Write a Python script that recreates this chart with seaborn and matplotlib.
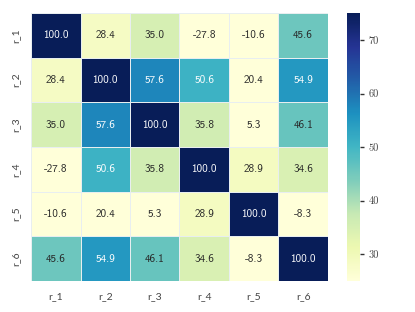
import numpy as np
import pandas as pd
import matplotlib
matplotlib.use("Agg")
import matplotlib.pyplot as plt
import seaborn as sns

labels = ["r_1", "r_2", "r_3", "r_4", "r_5", "r_6"]
row_1 = [100.0, 28.4, 35.0, -27.8, -10.6, 45.6]
row_2 = [28.4, 100.0, 57.6, 50.6, 20.4, 54.9]
row_3 = [35.0, 57.6, 100.0, 35.8, 5.3, 46.1]
row_4 = [-27.8, 50.6, 35.8, 100.0, 28.9, 34.6]
row_5 = [-10.6, 20.4, 5.3, 28.9, 100.0, -8.3]
row_6 = [45.6, 54.9, 46.1, 34.6, -8.3, 100.0]

df = pd.DataFrame([row_1, row_2, row_3, row_4, row_5, row_6], index=labels, columns=labels)

sns.set_theme(style="white")
plt.rcParams['font.family'] = ['cmss10', 'DejaVu Sans']
plt.rcParams['axes.unicode_minus'] = False

fig = plt.figure(figsize=(4.15, 3.12), dpi=100)
ax = fig.add_axes([0.075, 0.099, 0.715, 0.859])
cax = fig.add_axes([0.836, 0.099, 0.031, 0.859])

sns.heatmap(df, ax=ax, cbar_ax=cax, cmap="YlGnBu", vmin=25, vmax=75,
            annot=True, fmt=".1f", linewidths=0.6, linecolor="#e8eef0",
            annot_kws={"fontsize": 8})

ax.tick_params(axis="both", length=0, labelsize=7.5, pad=8, labelcolor="#444444")
ax.set_yticklabels(labels, rotation=90, va="center", family=["Lato", "DejaVu Sans"])
ax.set_xticklabels(labels, rotation=0, family=["Lato", "DejaVu Sans"])
cax.tick_params(labelsize=7.5, length=3, width=1, color="#333333", labelcolor="#444444")
for t in cax.get_yticklabels():
    t.set_family(['cmr10', 'DejaVu Serif'])
cax.yaxis.set_ticks_position('right')

fig.savefig("out.png", dpi=100)
